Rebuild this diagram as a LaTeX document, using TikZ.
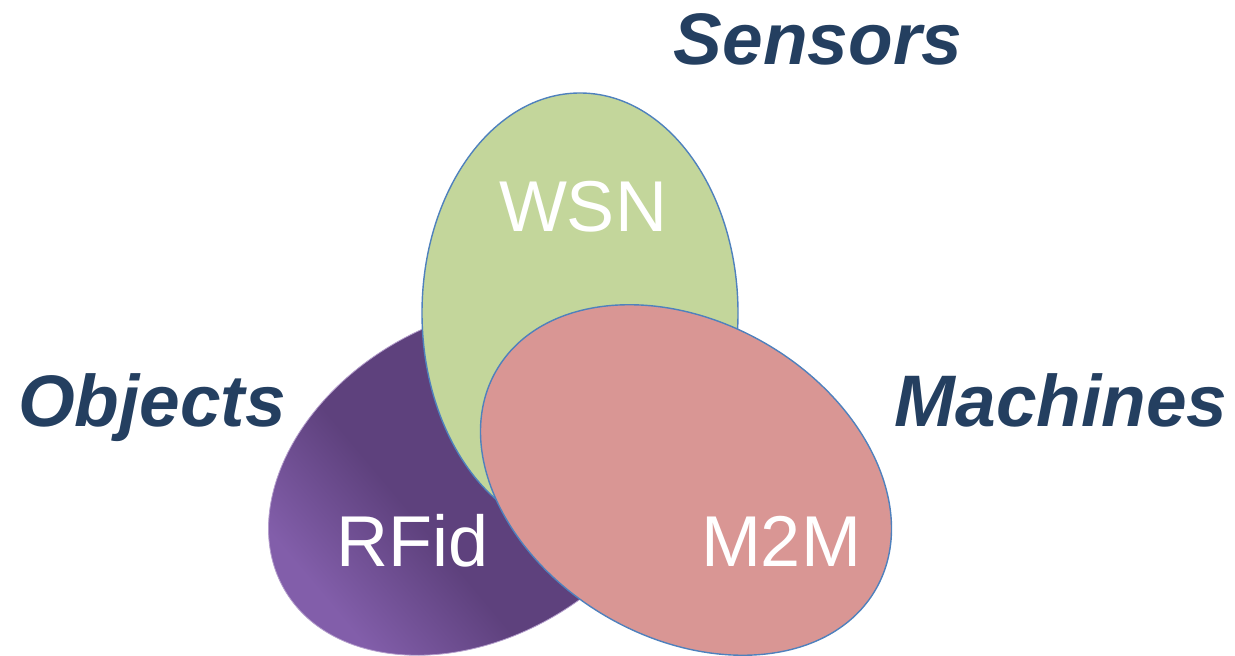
\documentclass[tikz,border=0pt]{standalone}
\usepackage{fontspec}
\setmainfont{Liberation Sans}
\usepackage{tikz}
\usetikzlibrary{calc}

\definecolor{navy}{RGB}{36,63,96}
\definecolor{wsngreen}{RGB}{195,214,155}
\definecolor{mtmpink}{RGB}{217,150,148}
\definecolor{edgeblue}{RGB}{79,129,189}
\definecolor{rfiddark}{RGB}{94,65,125}
\definecolor{rfidlight}{RGB}{130,94,170}

\pgfdeclarehorizontalshading{rfidshade}{100bp}{color(0bp)=(rfidlight); color(28bp)=(rfidlight); color(42bp)=(rfiddark); color(100bp)=(rfiddark)}

\tikzset{
  field/.style={font=\fontsize{73}{73}\selectfont\bfseries\itshape, text=navy, inner sep=0pt, anchor=base},
  tech/.style={font=\fontsize{72}{72}\selectfont, text=white, inner sep=0pt, anchor=base},
  rim/.style={draw=edgeblue, line width=1.4pt}
}

\begin{document}
\begin{tikzpicture}[x=1pt, y=1pt]
\useasboundingbox (0,0) rectangle (1235,656);

% First, the three ellipses, bottom one first
\shade[shading=rfidshade, shading angle=40, rotate around={30:(474,176)}] (474,176) ellipse (219 and 158);
\draw[rfidlight!60, line width=0.8pt, rotate around={30:(474,176)}] (474,176) ellipse (219 and 158);
\fill[wsngreen, rim] (580,343) ellipse (158 and 220);
\fill[mtmpink, rim, rotate around={-30:(686,176)}] (686,176) ellipse (219 and 158);

% Now the labels inside
\node[tech] (wsn) at (583,424) {WSN};
\node[tech] (rfid) at (413,89) {RFid};
\node[tech] (m2m) at (781,89) {M2M};

% Finally the fields around
\node[field] (sensors) at (818,591) {Sensors};
\node[field] (objects) at (152,229) {Objects};
\node[field] (machines) at (1061,229) {Machines};

\end{tikzpicture}
\end{document}
